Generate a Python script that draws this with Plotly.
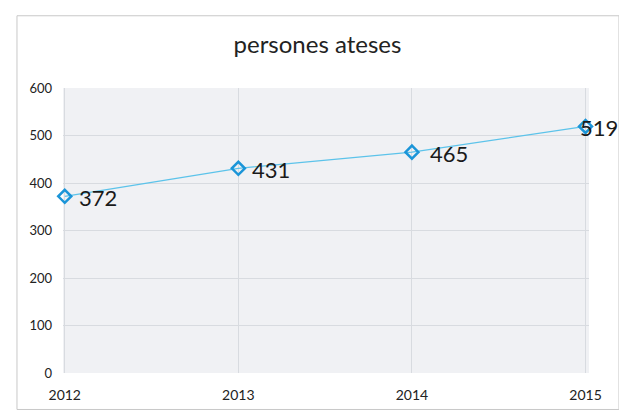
import plotly.graph_objects as go

years = ["2012", "2013", "2014", "2015"]
persones = [372, 431, 465, 519]
y_ticks = [0, 100, 200, 300, 400, 500, 600]

# label placement offsets (pixels), styling only
label_shift = [12, 12, 16, -8]

fig = go.Figure()
fig.add_trace(go.Scatter(
    x=years, y=persones,
    mode="lines+markers",
    line=dict(color="#5cc3ea", width=1.3),
    marker=dict(symbol="diamond-open", size=10, color="#1b95d8", line=dict(width=2.5, color="#1b95d8")),
    cliponaxis=False,
    showlegend=False,
))

for i, (yv, sh) in enumerate(zip(persones, label_shift)):
    fig.add_annotation(x=i, y=yv, xref="x", yref="y", text=str(yv), showarrow=False,
                       xanchor="left", yanchor="middle", xshift=sh, yshift=-1,
                       font=dict(family="Lato, Open Sans, sans-serif", size=22, color="#1a1a1a"))

fig.update_layout(
    width=619, height=407,
    margin=dict(l=55, r=38, t=80, b=39),
    paper_bgcolor="white",
    plot_bgcolor="#f0f1f4",
    title=dict(text="persones ateses", x=0.5, xanchor="center", y=0.909, yanchor="middle",
               font=dict(family="Lato, Open Sans, sans-serif", size=24, color="#222222")),
    font=dict(family="Lato, Open Sans, sans-serif", size=13, color="#222222"),
    xaxis=dict(type="category", range=[-0.01, 3.02], showgrid=True, gridcolor="#d8dbe0",
               gridwidth=1, zeroline=False, showline=False, ticks="", ticklabelstandoff=12,
               tickfont=dict(size=14)),
    yaxis=dict(range=[0, 600], tickvals=y_ticks, showgrid=True, gridcolor="#d8dbe0",
               zeroline=False, showline=False, ticks="", ticklabelstandoff=10,
               tickfont=dict(size=13)),
    shapes=[dict(type="rect", xref="paper", yref="paper",
                 x0=-0.0875, x1=1.057, y0=-0.128, y1=1.2535,
                 line=dict(color="#c8c8c8", width=1), fillcolor="rgba(0,0,0,0)", layer="below")],
)

fig.write_html("out.html")
